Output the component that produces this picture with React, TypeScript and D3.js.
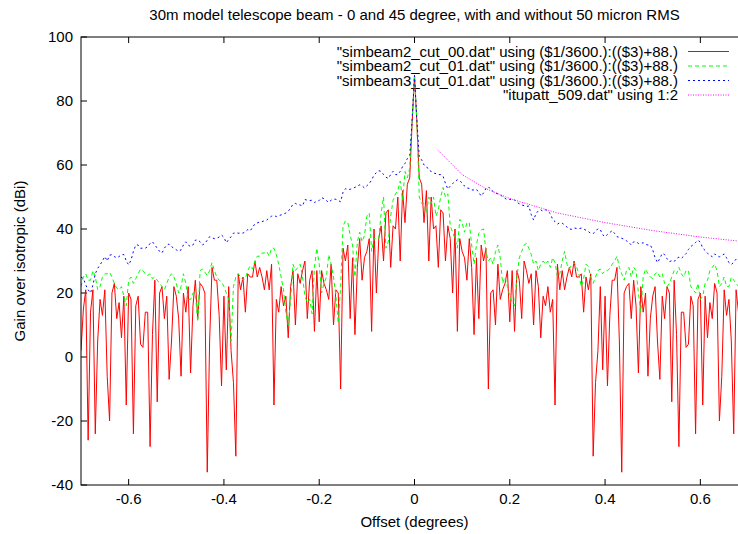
import React from "react";
import * as d3 from "d3";

// ---- data ----
const offsetStart = -0.7; // degrees
const offsetStep = 0.005; // degrees

// simbeam2_cut_00 (0 degree cut, perfect surface), gain in dBi
const gainCut00 = [
  2, 15, 21, -26, 14, 21, -24, 5, 18, 13,
  21, -6, -20, 20, 23, 12, 17, 6, 19, -15,
  20, 18, -24, 16, 19, 4, 3, 14, 14, -28,
  7, 24, -14, 20, 22, 12, 19, -7, 5, 22,
  19, 12, -6, 20, 14, 22, -5, 16, 24, 12,
  23, 22, 20, -36, 5, 28, 24, 24, 13, -9,
  19, -4, 22, 2, -8, -31, 26, 21, 25, 14,
  26, 25, 25, 30, 25, 28, 25, 21, 27, 21,
  29, -15, 18, 14, 22, 16, 19, 6, 22, 27,
  10, 26, 23, 27, 30, 12, 24, 27, 8, 27,
  11, 27, 23, 21, 18, 29, 10, 21, 20, -10,
  34, 30, 35, 12, 31, 7, 28, 37, 24, 31,
  33, 37, 8, 40, 20, 37, 41, 30, 45, 46,
  28, 41, 40, 50, 30, 52, 42, 54, 56, 73,
  88,
  73, 56, 54, 42, 52, 30, 50, 40, 41, 28,
  46, 45, 30, 41, 37, 20, 40, 8, 37, 33,
  31, 24, 37, 28, 7, 31, 12, 35, 30, 34,
  -10, 20, 21, 10, 29, 18, 21, 23, 27, 11,
  27, 8, 27, 24, 12, 30, 27, 23, 26, 10,
  27, 22, 6, 19, 16, 22, 14, 18, -15, 29,
  21, 27, 21, 25, 28, 25, 30, 25, 25, 26,
  14, 25, 21, 26, -31, -8, 2, 22, -4, 19,
  -9, 13, 24, 24, 28, 5, -36, 20, 22, 23,
  12, 24, 16, -5, 22, 14, 20, -6, 12, 19,
  22, 5, -7, 19, 12, 22, 20, -14, 24, 7,
  -28, 14, 14, 3, 4, 19, 16, -24, 18, 20,
  -15, 19, 6, 17, 12, 23, 20, -20, -6, 21,
  13, 18, 5, -24, 21, 14,
];

// simbeam2_cut_01 (45 degree cut)
const gainCut01 = [
  22, 25, 26, 24, 24, 27, 25, 21, 22, 25,
  26, 26, 26.5, 25, 23, 21.5, 21, 22, 19, 16,
  24, 25, 23, 24.5, 26, 27.5, 27, 26, 25.5, 26,
  24.5, 25, 24, 23, 22, 21, 23, 25, 26, 25,
  23, 20, 22, 26, 23, 18, 18, 20, 20, 11,
  27, 27.5, 26.5, 25.5, 27, 29.5, 27, 25, 24, 23.5,
  22, 20, 18, 5, 22, 25, 26, 25, 24, 24.5,
  27, 28.5, 27.5, 30, 31.5, 31.5, 32.5, 32.5, 33, 31.5,
  34, 34, 32, 29, 25, 21, 14, 10, 18, 29,
  27, 28, 29, 25, 19, 17, 18, 13.5, 28, 34,
  29, 20, 23, 25, 32, 29, 25, 19, 10.5, 22,
  41, 42.5, 42, 38, 35, 25, 36, 39, 36, 38,
  44, 45, 33, 37, 37, 37, 45, 50, 34, 36,
  44, 49, 51, 52, 55, 49, 58, 56, 59, 74,
  88,
  74, 50, 48, 48, 45, 50, 48, 50, 44, 46,
  50, 53, 50, 51, 41, 39, 37, 34, 43, 42,
  39, 42, 42, 35, 29, 35, 38.7, 39.7, 40, 33,
  30, 31, 29, 33, 35, 31, 23, 25, 22, 19,
  17, 16, 25, 31, 33, 35, 35.5, 34, 32, 29,
  30, 27, 29, 30, 29, 30, 28, 31, 29.5, 25,
  26, 30, 33, 29, 27.5, 28.8, 29.5, 28.3, 26, 22,
  24.5, 29, 28.2, 25, 23, 25, 27, 27.5, 26, 27,
  27, 27.7, 29, 30, 31.5, 28, 26, 24, 27, 28,
  25, 28, 27, 20, 14, 25, 27.5, 26, 25, 24.5,
  26, 26.5, 25, 26, 23, 22, 23, 25, 27, 26,
  28, 26, 25, 27, 27, 22, 21, 20, 23, 18,
  19, 23, 24, 27, 28, 29, 27, 22, 23, 25,
  22, 22, 25, 24, 23, 22,
];

// simbeam3_cut_01 (45 degree cut, 50 micron RMS)
const gainRms01 = [
  25, 24.5, 22.5, 21, 20, 22.5, 26, 27.7, 28.8, 30,
  31.4, 30, 31.8, 32, 31.4, 31, 31.4, 32, 32, 30,
  28.8, 30.3, 33, 35, 35, 34, 34, 34, 34.5, 35.5,
  36, 35, 34, 33, 32.5, 34, 35, 35.3, 34.5, 34,
  33.5, 33, 33.5, 35, 36, 35, 34.5, 35, 36.5, 36.6,
  36, 35, 35.5, 36.5, 37.6, 37.2, 37, 37.1, 37.5, 38.1,
  37.4, 35.7, 36.7, 37.6, 38.7, 38.8, 38.7, 38.7, 38.7, 39.2,
  39.8, 39.4, 40.5, 41.6, 41.9, 42.2, 42.3, 42.6, 42.8, 43.5,
  44, 44.2, 43.9, 44.2, 44.4, 44.7, 45, 45.6, 46.5, 47.8,
  48, 47.6, 47.5, 47.2, 49.2, 49, 48.9, 49, 48.3, 48.6,
  48.9, 49.8, 49.5, 48.9, 48.3, 49, 49.3, 49.3, 48.9, 48.5,
  51.5, 52.6, 52.3, 52.4, 52.7, 53, 53.4, 53.8, 53.5, 52.8,
  53.5, 54.2, 55.3, 56.9, 57.6, 58.2, 58, 57, 56.2, 55.8,
  57, 58, 57, 57, 58, 59.5, 60.5, 62, 63, 74,
  88,
  74, 62.5, 61.6, 60, 59.6, 58.4, 58, 57.5, 57.3, 57,
  57, 56.5, 54.2, 52.5, 53.4, 54.2, 54.8, 55.4, 55, 54.4,
  53.4, 52.8, 52.7, 52.2, 52.2, 52.4, 51.4, 50.3, 51.3, 52.7,
  53.2, 52.4, 51.7, 51.2, 51, 50.6, 50.2, 49.6, 49.1, 49.3,
  49.1, 49.1, 48.3, 47.9, 47.5, 47.3, 47, 47.2, 44.5, 42.8,
  44.8, 45.7, 46, 45.5, 46, 45.5, 44.8, 43, 42.3, 41.5,
  42, 41.8, 41.3, 40.6, 40, 39.9, 40.3, 40.2, 40.1, 40.3,
  40, 39.6, 39.2, 38.6, 38.6, 39.2, 40.1, 39.8, 38.2, 37.6,
  38.3, 38.9, 39.5, 38.6, 37.6, 37.4, 37.1, 36.8, 36.3, 35.8,
  35, 36, 36, 35.5, 35.5, 35.7, 35.2, 35, 35, 33.5,
  31, 29.5, 30.8, 32.4, 32, 30.7, 29.8, 30.1, 29.8, 30.8,
  31.2, 30.8, 31.5, 32.3, 33.6, 34.5, 35.1, 35.8, 36.5, 35.9,
  34, 33.3, 32.4, 31.9, 31.3, 32.2, 31.7, 31.3, 31.7, 32.2,
  31, 29.5, 28.9, 29.6, 30.6, 30.3,
];

// itupatt_509.dat
const ituOffsets = [0.05, 0.1, 0.15, 0.2, 0.3, 0.4, 0.5, 0.6, 0.7];
const ituGain = [64.5, 57, 52.6, 49.5, 45, 42, 39.5, 37.5, 35.9];

const xTicks = [-0.6, -0.4, -0.2, 0, 0.2, 0.4, 0.6];
const xTickLabels = ["-0.6", "-0.4", "-0.2", "0", "0.2", "0.4", "0.6"];
const yTicks = [-40, -20, 0, 20, 40, 60, 80, 100];
const yTickLabels = ["-40", "-20", "0", "20", "40", "60", "80", "100"];

const legendLabels = [
  '"simbeam2_cut_00.dat" using ($1/3600.):(($3)+88.)',
  '"simbeam2_cut_01.dat" using ($1/3600.):(($3)+88.)',
  '"simbeam3_cut_01.dat" using ($1/3600.):(($3)+88.)',
  '"itupatt_509.dat" using 1:2',
];

const titleText = "30m model telescope beam - 0 and 45 degree, with and without 50 micron RMS";
const xLabel = "Offset (degrees)";
const yLabel = "Gain over isotropic (dBi)";

// ---- chart ----
const W = 738;
const H = 534;
const M = { left: 81, top: 37, right: 748, bottom: 485 };
const FONT = "'Liberation Sans', Arial, Helvetica, sans-serif";
const FS = 15;

const styles = [
  { color: "#ff0000", dash: undefined as string | undefined, width: 1 },
  { color: "#00ff00", dash: "4,3", width: 1 },
  { color: "#0000ff", dash: "2,3", width: 1 },
  { color: "#ff00ff", dash: "1,1.5", width: 1 },
];

export default function App() {
  const x = d3.scaleLinear().domain([-0.7, 0.7]).range([M.left, M.right]);
  const y = d3.scaleLinear().domain([-40, 100]).range([M.bottom, M.top]);

  const toPts = (vals: number[]) =>
    vals.map((v, i) => [offsetStart + i * offsetStep, v] as [number, number]);

  const line = d3
    .line<[number, number]>()
    .x((d) => x(d[0]))
    .y((d) => y(d[1]));

  const series = [
    toPts(gainCut00),
    toPts(gainCut01),
    toPts(gainRms01),
    ituOffsets.map((o, i) => [o, ituGain[i]] as [number, number]),
  ];

  const tick = 6;
  const legendY = [51.5, 66, 80.5, 95];

  return (
    <svg
      width={W}
      height={H}
      style={{ position: "absolute", left: 0, top: 0, background: "#fff" }}
      fontFamily={FONT}
      fontSize={FS}
    >
      <rect x={0} y={0} width={W} height={H} fill="#fff" />
      <defs>
        <clipPath id="plotClip">
          <rect x={M.left} y={M.top} width={M.right - M.left} height={M.bottom - M.top} />
        </clipPath>
      </defs>

      <text x={(M.left + M.right) / 2} y={20} textAnchor="middle" fill="#000">
        {titleText}
      </text>

      {/* y ticks */}
      {yTicks.map((t, i) => (
        <g key={"y" + t}>
          <line x1={M.left} x2={M.left + tick} y1={y(t)} y2={y(t)} stroke="#000" />
          <line x1={M.right} x2={M.right - tick} y1={y(t)} y2={y(t)} stroke="#000" />
          <text x={73} y={y(t) + 5} textAnchor="end" fill="#000">
            {yTickLabels[i]}
          </text>
        </g>
      ))}

      {/* x ticks */}
      {xTicks.map((t, i) => (
        <g key={"x" + t}>
          <line x1={x(t)} x2={x(t)} y1={M.bottom} y2={M.bottom - tick} stroke="#000" />
          <line x1={x(t)} x2={x(t)} y1={M.top} y2={M.top + tick} stroke="#000" />
          <text x={x(t)} y={504} textAnchor="middle" fill="#000">
            {xTickLabels[i]}
          </text>
        </g>
      ))}

      <text x={(M.left + M.right) / 2} y={527} textAnchor="middle" fill="#000">
        {xLabel}
      </text>
      <text
        transform={`translate(25, ${(M.top + M.bottom) / 2}) rotate(-90)`}
        textAnchor="middle"
        fill="#000"
      >
        {yLabel}
      </text>

      {/* legend */}
      {legendLabels.map((lab, i) => (
        <g key={"lg" + i}>
          <text x={678} y={legendY[i] + 5} textAnchor="end" fill="#000">
            {lab}
          </text>
          <line
            x1={688}
            x2={729}
            y1={legendY[i]}
            y2={legendY[i]}
            stroke={styles[i].color}
            strokeDasharray={styles[i].dash}
            strokeWidth={styles[i].width}
          />
        </g>
      ))}

      {/* data */}
      <g clipPath="url(#plotClip)">
        {series.map((pts, i) => (
          <path
            key={"s" + i}
            d={line(pts) || ""}
            fill="none"
            stroke={styles[i].color}
            strokeDasharray={styles[i].dash}
            strokeWidth={styles[i].width}
            strokeLinejoin="round"
          />
        ))}
      </g>

      <rect
        x={M.left}
        y={M.top}
        width={M.right - M.left}
        height={M.bottom - M.top}
        fill="none"
        stroke="#000"
        strokeWidth={1}
      />
    </svg>
  );
}
